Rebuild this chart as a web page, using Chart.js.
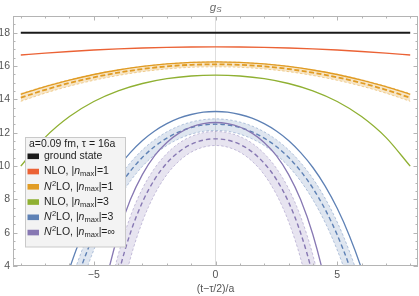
<!DOCTYPE html>
<html><head><meta charset="utf-8">
<script src="https://cdn.jsdelivr.net/npm/chart.js@4"></script>
<style>html,body{margin:0;padding:0;background:#fff}canvas{display:block}</style>
</head><body>
<canvas id="c" width="419" height="296"></canvas>
<script>
// ---- data ----
const xFull = [-8,-7,-6,-5,-4,-3,-2,-1,0,1,2,3,4,5,6,7,8];
const groundState = [18,18,18,18,18,18,18,18,18,18,18,18,18,18,18,18,18];
const nloN1 = [16.66,16.77,16.87,16.96,17.03,17.08,17.12,17.14,17.15,17.14,17.12,17.08,17.03,16.96,16.87,16.77,16.66];
const n2loN1Fit = [14.30,14.76,15.15,15.49,15.76,15.98,16.13,16.22,16.25,16.22,16.13,15.98,15.76,15.49,15.15,14.76,14.30];
const n2loN1Mid = [14.10,14.57,14.98,15.32,15.60,15.82,15.98,16.07,16.10,16.07,15.98,15.82,15.60,15.32,14.98,14.57,14.10];
const n2loN1Hi  = [14.35,14.79,15.18,15.51,15.77,15.98,16.13,16.22,16.25,16.22,16.13,15.98,15.77,15.51,15.18,14.79,14.35];
const n2loN1Lo  = [13.88,14.37,14.79,15.14,15.43,15.66,15.82,15.92,15.95,15.92,15.82,15.66,15.43,15.14,14.79,14.37,13.88];
const nloN3 = [9.99,11.72,12.97,13.87,14.51,14.95,15.24,15.40,15.45,15.40,15.24,14.95,14.51,13.87,12.97,11.72,9.99];

const xBlue = [-6.5,-6,-5.5,-5,-4.5,-4,-3.5,-3,-2.5,-2,-1.5,-1,-0.5,0,0.5,1,1.5,2,2.5,3,3.5,4,4.5,5,5.5,6,6.5];
const n2loN3Fit = [1.43,3.84,5.82,7.46,8.81,9.91,10.80,11.53,12.10,12.54,12.87,13.09,13.23,13.27,13.23,13.09,12.87,12.54,12.10,11.53,10.80,9.91,8.81,7.46,5.82,3.84,1.43];
const n2loN3Mid = [-1.03,1.73,4.00,5.87,7.41,8.67,9.69,10.52,11.17,11.67,12.05,12.31,12.46,12.51,12.46,12.31,12.05,11.67,11.17,10.52,9.69,8.67,7.41,5.87,4.00,1.73,-1.03];
const n2loN3Hi  = [0.20,2.77,4.89,6.64,8.07,9.25,10.20,10.97,11.58,12.05,12.40,12.64,12.78,12.83,12.78,12.64,12.40,12.05,11.58,10.97,10.20,9.25,8.07,6.64,4.89,2.77,0.20];
const n2loN3Lo  = [-2.49,0.49,2.94,4.96,6.62,7.98,9.09,9.98,10.68,11.23,11.63,11.91,12.08,12.13,12.08,11.91,11.63,11.23,10.68,9.98,9.09,7.98,6.62,4.96,2.94,0.49,-2.49];

const xPurple = [-5,-4.5,-4,-3.5,-3,-2.5,-2,-1.5,-1,-0.5,0,0.5,1,1.5,2,2.5,3,3.5,4,4.5,5];
const n2loInfFit = [-0.77,3.06,5.89,7.97,9.50,10.62,11.41,11.97,12.34,12.54,12.61,12.54,12.34,11.97,11.41,10.62,9.50,7.97,5.89,3.06,-0.77];
const n2loInfMid = [-4.69,-0.02,3.43,5.97,7.84,9.20,10.17,10.85,11.30,11.55,11.63,11.55,11.30,10.85,10.17,9.20,7.84,5.97,3.43,-0.02,-4.69];
const n2loInfHi  = [-2.66,1.55,4.66,6.96,8.65,9.87,10.75,11.37,11.77,12.00,12.07,12.00,11.77,11.37,10.75,9.87,8.65,6.96,4.66,1.55,-2.66];
const n2loInfLo  = [-8.38,-2.77,1.37,4.43,6.67,8.30,9.48,10.29,10.83,11.13,11.23,11.13,10.83,10.29,9.48,8.30,6.67,4.43,1.37,-2.77,-8.38];

const xTicks = [-5,0,5];
const xTickLabels = ['\u22125','0','5'];
const yTicks = [4,6,8,10,12,14,16,18];
const yTickLabels = ['4','6','8','10','12','14','16','18'];
const seriesLabels = ['ground state','NLO, |n_max|=1','N^2LO, |n_max|=1','NLO, |n_max|=3','N^2LO, |n_max|=3','N^2LO, |n_max|=\u221e'];
const legendTitle = 'a=0.09 fm, \u03c4 = 16a';
const xTitle = '(t\u2212\u03c4/2)/a';

// ---- styles ----
const FONT = "'Liberation Sans', Arial, sans-serif";
const C = {black:'#1a1a1a', red:'#eb6235', orange:'#e19c24', green:'#8fb032', blue:'#5e81b5', purple:'#8778b3'};
const swatch = [C.black,C.red,C.orange,C.green,C.blue,C.purple];
function rgba(hex,a){const n=parseInt(hex.slice(1),16);return `rgba(${n>>16},${(n>>8)&255},${n&255},${a})`;}
function pts(xs,ys){return xs.map((x,i)=>({x:x,y:ys[i]}));}
function uni(s){return s.replace('^2','\u00b2').replace('n_max','n\u2098\u2090\u2093');}

const datasets = [];
function line(label,xs,ys,color,width,dash,extra){
  const d = Object.assign({label:label,data:pts(xs,ys),borderColor:color,borderWidth:width,borderDash:dash||[],
    pointRadius:0,fill:false,cubicInterpolationMode:'monotone'},extra||{});
  datasets.push(d); return datasets.length-1;
}
function band(label,xs,hi,lo,mid,fit,color,opts){
  line(uni(label),xs,fit,color,1.3,[]);
  const loIdx = line(label+' lower',xs,lo,rgba(color,0.55),0.8,[2.5,2]);
  line(label+' upper',xs,hi,rgba(color,0.55),0.8,[2.5,2],{fill:{target:loIdx},backgroundColor:rgba(color,opts.alpha)});
  line(label+' central',xs,mid,color,opts.midWidth,opts.midDash);
}
line(uni(seriesLabels[0]),xFull,groundState,C.black,2,[]);
line(uni(seriesLabels[1]),xFull,nloN1,C.red,1.3,[]);
band(seriesLabels[2],xFull,n2loN1Hi,n2loN1Lo,n2loN1Mid,n2loN1Fit,C.orange,{alpha:0.25,midWidth:1.8,midDash:[5,2.5]});
line(uni(seriesLabels[3]),xFull,nloN3,C.green,1.3,[]);
band(seriesLabels[4],xBlue,n2loN3Hi,n2loN3Lo,n2loN3Mid,n2loN3Fit,C.blue,{alpha:0.2,midWidth:1.4,midDash:[4.5,3]});
band(seriesLabels[5],xPurple,n2loInfHi,n2loInfLo,n2loInfMid,n2loInfFit,C.purple,{alpha:0.2,midWidth:1.4,midDash:[4.5,3]});
datasets.forEach((d,i)=>{d.order = datasets.length - i;});

// ---- plugins ----
const framePlugin = {
  id:'frame',
  afterDatasetsDraw(chart){
    const {ctx, chartArea:a, scales:{x,y}} = chart;
    ctx.save();
    ctx.strokeStyle='#b4b4b4'; ctx.lineWidth=1;
    ctx.strokeRect(a.left+0.5,a.top+0.5,a.right-a.left-1,a.bottom-a.top-1);
    ctx.beginPath();
    for(let v=4; v<=19.001; v+=0.5){
      const p=Math.round(y.getPixelForValue(v))+0.5;
      const L = (Math.abs(v%2)<1e-6)?4.5:2.5;
      ctx.moveTo(a.left,p); ctx.lineTo(a.left+L,p);
      ctx.moveTo(a.right,p); ctx.lineTo(a.right-L,p);
    }
    for(let v=-8; v<=8; v+=1){
      const p=Math.round(x.getPixelForValue(v))+0.5;
      const L = (v%5===0)?4.5:2.5;
      ctx.moveTo(p,a.bottom); ctx.lineTo(p,a.bottom-L);
      ctx.moveTo(p,a.top); ctx.lineTo(p,a.top+L);
    }
    ctx.stroke();
    // title g_S
    const cx = x.getPixelForValue(0);
    ctx.fillStyle='#6a6a6a'; ctx.textBaseline='alphabetic';
    ctx.font='italic 11.5px '+FONT; ctx.textAlign='left';
    const gw = ctx.measureText('g').width;
    ctx.font='italic 8px '+FONT;
    const sw = ctx.measureText('S').width;
    const x0 = cx - (gw+sw)/2;
    ctx.font='italic 11.5px '+FONT; ctx.fillText('g',x0,10.5);
    ctx.font='italic 8px '+FONT; ctx.fillText('S',x0+gw+0.3,12.3);
    ctx.restore();
  },
  afterDraw(chart){
    const ctx = chart.ctx;
    ctx.save();
    const bx=25.5, by=137.5, bw=100, bh=109.5;
    ctx.fillStyle='#f3f3f3'; ctx.fillRect(bx,by,bw,bh);
    ctx.strokeStyle='#c9c9c9'; ctx.lineWidth=1; ctx.strokeRect(bx,by,bw,bh);
    ctx.fillStyle='#1e1e1e'; ctx.textBaseline='middle'; ctx.textAlign='left';
    ctx.font='10.5px '+FONT;
    ctx.fillText(legendTitle,29,144.5);
    const y0=156.3, dy=15.25;
    seriesLabels.forEach((lab,i)=>{
      const yc = y0+i*dy;
      ctx.fillStyle=swatch[i]; ctx.fillRect(27.5,yc-2.8,11.5,5.6);
      ctx.fillStyle='#1e1e1e';
      let xx=44;
      const parts = lab.split(/(N\^2|n_max)/);
      parts.forEach(p=>{
        if(!p) return;
        if(p==='N^2'){
          ctx.font='italic 10.5px '+FONT; ctx.fillText('N',xx,yc); xx+=ctx.measureText('N').width+0.3;
          ctx.font='7.5px '+FONT; ctx.fillText('2',xx,yc-3.3); xx+=ctx.measureText('2').width;
        } else if(p==='n_max'){
          ctx.font='italic 10.5px '+FONT; ctx.fillText('n',xx,yc); xx+=ctx.measureText('n').width;
          ctx.font='7.5px '+FONT; ctx.fillText('max',xx,yc+2.6); xx+=ctx.measureText('max').width;
        } else {
          ctx.font='10.5px '+FONT; ctx.fillText(p,xx,yc); xx+=ctx.measureText(p).width;
        }
      });
    });
    ctx.restore();
  }
};

new Chart(document.getElementById('c'),{
  type:'line',
  data:{datasets:datasets},
  options:{
    responsive:false, animation:false, devicePixelRatio:1,
    layout:{padding:{top:16,right:1,left:0,bottom:0}},
    plugins:{legend:{display:false},tooltip:{enabled:false},title:{display:false}},
    scales:{
      x:{type:'linear',min:-8.32,max:8.32,
        afterBuildTicks:s=>{s.ticks=xTicks.map(v=>({value:v}));},
        afterFit:s=>{s.height=30;},
        ticks:{callback:(v)=>xTickLabels[xTicks.indexOf(v)],color:'#555',font:{size:10.5,family:FONT},padding:3,maxRotation:0,autoSkip:false},
        grid:{drawTicks:false,color:c=>(c.tick&&c.tick.value===0)?'#dedede':'rgba(0,0,0,0)',lineWidth:1},
        border:{display:false},
        title:{display:true,text:xTitle,color:'#555',font:{size:10.5,family:FONT},padding:{top:0,bottom:1}}
      },
      y:{type:'linear',min:4,max:19,
        afterBuildTicks:s=>{s.ticks=yTicks.map(v=>({value:v}));},
        afterFit:s=>{s.width=13;},
        ticks:{callback:(v)=>yTickLabels[yTicks.indexOf(v)],color:'#555',font:{size:10.5,family:FONT},padding:3,autoSkip:false},
        grid:{display:false,drawTicks:false},
        border:{display:false}
      }
    }
  },
  plugins:[framePlugin]
});
</script>
</body></html>
